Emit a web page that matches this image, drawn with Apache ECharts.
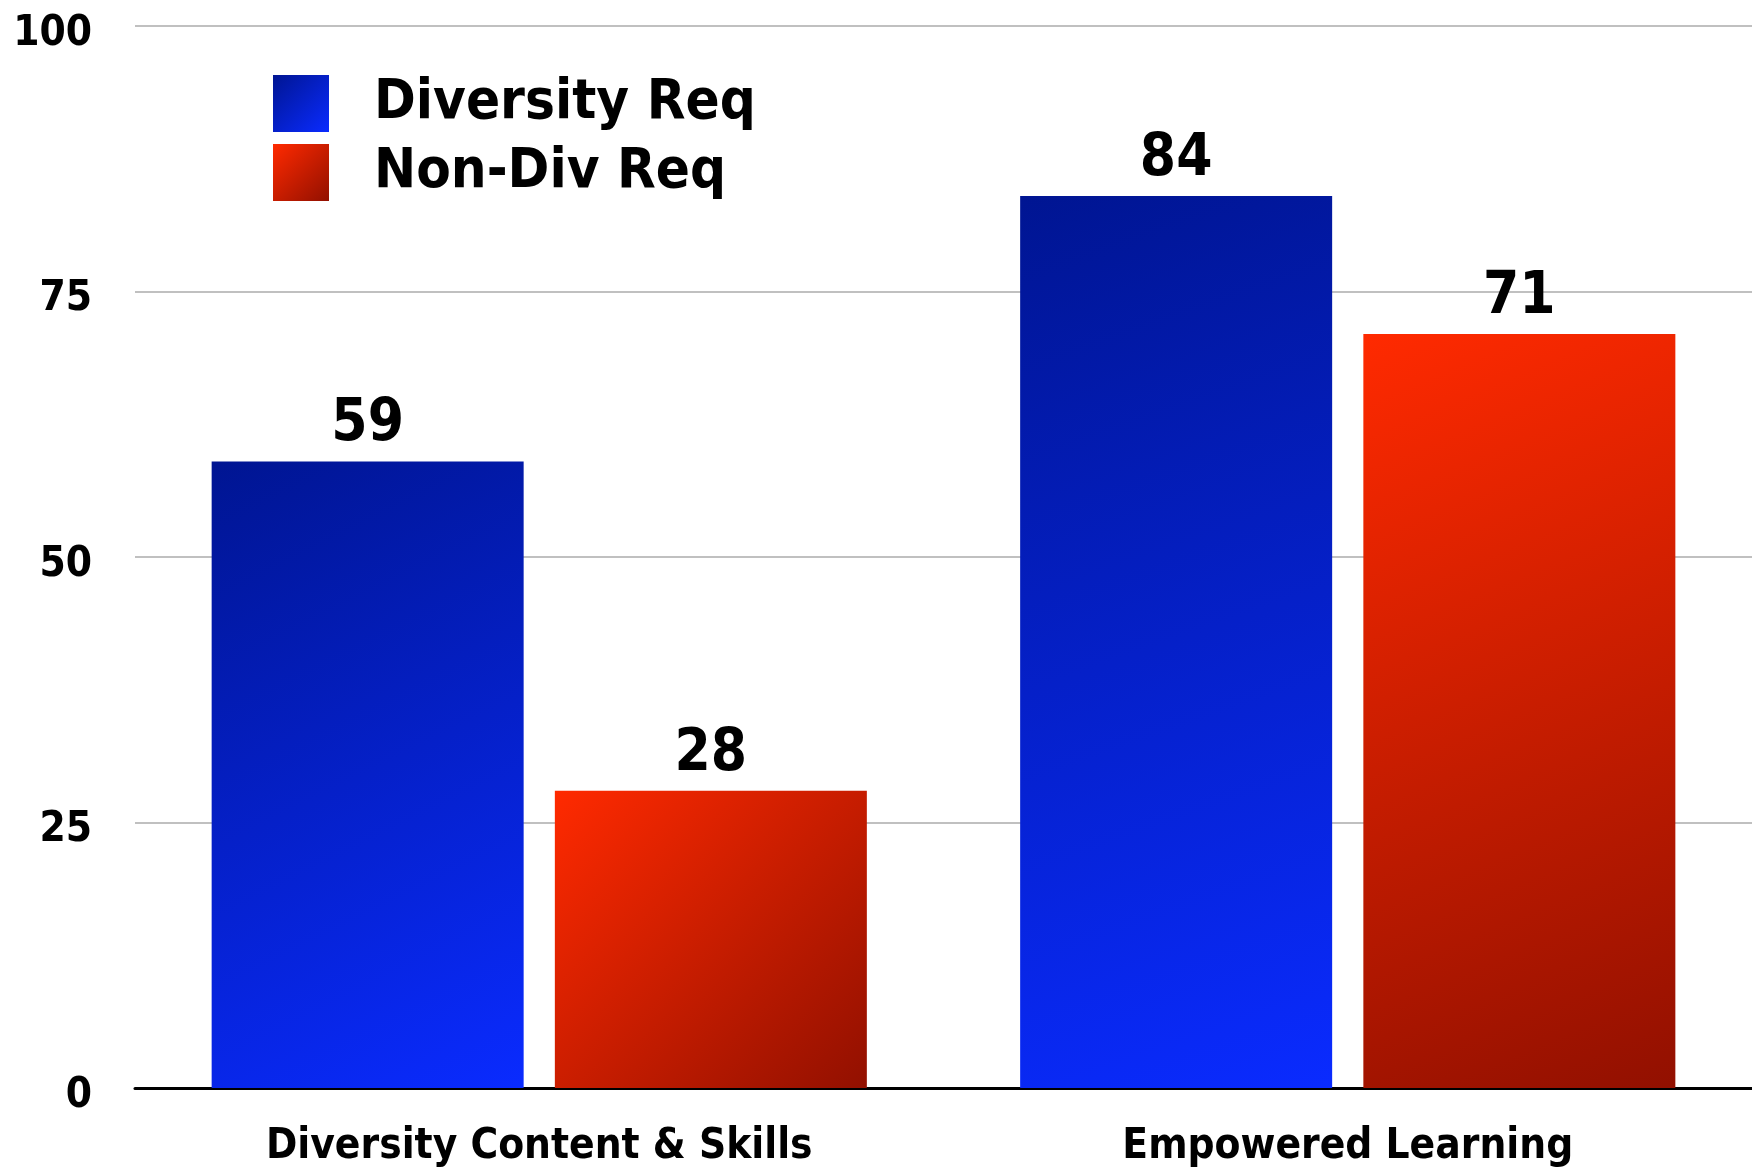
<!DOCTYPE html>
<html>
<head>
<meta charset="utf-8">
<script src="https://cdn.jsdelivr.net/npm/echarts@6/dist/echarts.min.js"></script>
<style>
html,body{margin:0;padding:0;background:#fff;}
#chart{width:1752px;height:1168px;}
</style>
</head>
<body>
<div id="chart"></div>
<script>
const categories = ["Diversity Content & Skills", "Empowered Learning"];
const seriesNames = ["Diversity Req", "Non-Div Req"];
const diversityReq = [59, 84];
const nonDivReq = [28, 71];
const yTicks = [0, 25, 50, 75, 100];

const FONT = '"DejaVu Sans Condensed", "DejaVu Sans", sans-serif';
function grad(c1, c2) {
  return new echarts.graphic.LinearGradient(0, 0, 1, 1, [
    {offset: 0, color: c1}, {offset: 1, color: c2}
  ]);
}
const blue = grad('#001592', '#0a2bff');
const red = grad('#ff2a00', '#921000');

const chart = echarts.init(document.getElementById('chart'));
chart.setOption({
  animation: false,
  backgroundColor: '#ffffff',
  grid: {left: 135, width: 1624, top: 26, bottom: 80},
  legend: {
    orient: 'vertical',
    left: 268, top: 70,
    itemWidth: 56, itemHeight: 57, itemGap: 12,
    icon: 'rect',
    textStyle: {fontFamily: FONT, fontWeight: 'bold', fontSize: 56, color: '#000', padding: [0, 0, 0, 40]},
    data: [
      {name: seriesNames[0], itemStyle: {color: blue}},
      {name: seriesNames[1], itemStyle: {color: red}}
    ]
  },
  xAxis: {
    type: 'category',
    data: categories,
    axisLine: {lineStyle: {color: '#000', width: 3}},
    axisTick: {show: false},
    axisLabel: {fontFamily: FONT, fontWeight: 'bold', fontSize: 42, color: '#000', margin: 38}
  },
  yAxis: {
    type: 'value',
    min: 0, max: 100, interval: 25,
    axisLine: {show: false},
    axisTick: {show: false},
    splitLine: {lineStyle: {color: '#c0c0c0', width: 2}},
    axisLabel: {color: '#000', margin: 43,
      formatter: v => yTicks.includes(v) ? '{a|' + v + '}' : '',
      rich: {a: {fontFamily: FONT, fontWeight: 'bold', fontSize: 42, color: '#000', padding: [16, 0, 0, 0]}}}
  },
  series: [
    {
      name: seriesNames[0], type: 'bar', data: diversityReq,
      barWidth: 312, barGap: '10%',
      itemStyle: {color: blue},
      label: {show: true, position: 'top', distance: 7, fontFamily: FONT, fontWeight: 'bold', fontSize: 58, color: '#000'}
    },
    {
      name: seriesNames[1], type: 'bar', data: nonDivReq,
      barWidth: 312, barGap: '10%',
      itemStyle: {color: red},
      label: {show: true, position: 'top', distance: 7, fontFamily: FONT, fontWeight: 'bold', fontSize: 58, color: '#000'}
    }
  ]
});
</script>
</body>
</html>
